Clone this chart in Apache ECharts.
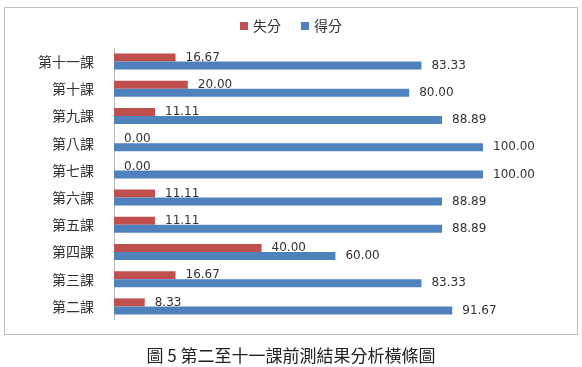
<!DOCTYPE html>
<html><head><meta charset="utf-8">
<script src="https://cdn.jsdelivr.net/npm/echarts@6/dist/echarts.min.js"></script>
<style>html,body{margin:0;padding:0;background:#fff}#c{width:582px;height:367px}</style>
</head><body><div id="c"></div>
<script>
const categories = ['第二課','第三課','第四課','第五課','第六課','第七課','第八課','第九課','第十課','第十一課'];
const lostScores = [8.33,16.67,40.00,11.11,11.11,0.00,0.00,11.11,20.00,16.67];
const gotScores = [91.67,83.33,60.00,88.89,88.89,100.00,100.00,88.89,80.00,83.33];
const seriesNames = ['失分','得分'];
const caption = '圖 5 第二至十一課前測結果分析橫條圖';

const chart = echarts.init(document.getElementById('c'), null, {renderer:'canvas'});
const lbl = {show:true, position:'right', distance:10, color:'#333', fontFamily:'DejaVu Sans', fontSize:12,
  formatter: p => Number(p.value).toFixed(2)};
chart.setOption({
  animation:false,
  backgroundColor:'#fff',
  graphic:[
    {type:'rect', shape:{x:4.5,y:7.5,width:573,height:327}, style:{fill:'none', stroke:'#bdbdbd', lineWidth:1}},
    {type:'text', left:'center', top:347, style:{text:caption, font:'17px "Noto Sans CJK TC"', fill:'#222'}}
  ],
  legend:{top:14, left:235, itemWidth:8, itemHeight:8, itemGap:20, icon:'rect',
    textStyle:{fontFamily:'Noto Sans CJK TC', fontSize:14, color:'#333'}, data:seriesNames},
  grid:{left:114, right:99, top:48, bottom:47, containLabel:false},
  xAxis:{type:'value', min:0, max:100, show:false},
  yAxis:{type:'category', data:categories,
    axisLine:{lineStyle:{color:'#bbb'}}, axisTick:{show:false},
    axisLabel:{margin:20, color:'#333', fontFamily:'Noto Sans CJK TC', fontSize:14}},
  series:[
    {name:seriesNames[0], type:'bar', data:lostScores, barWidth:8, barGap:'0%', itemStyle:{color:'#C0504D'}, label:lbl},
    {name:seriesNames[1], type:'bar', data:gotScores, barWidth:8, barGap:'0%', itemStyle:{color:'#4F81BD'}, label:lbl}
  ]
});
</script></body></html>
